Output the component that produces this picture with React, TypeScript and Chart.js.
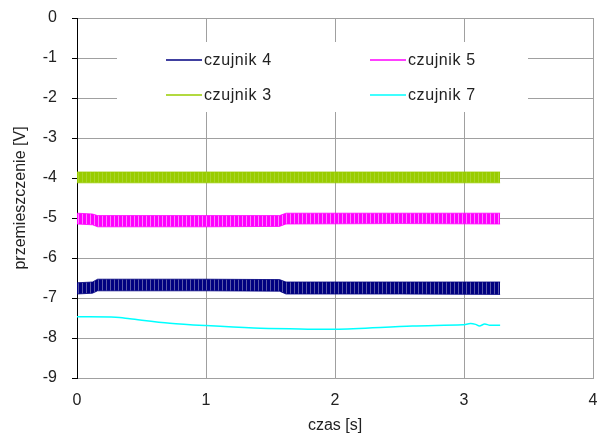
import React, { useEffect, useRef } from 'react';
import { Chart, registerables } from 'chart.js';

Chart.register(...registerables);

const FONT = '"Liberation Sans", Arial, sans-serif';
const TEXT = '#222222';
const GRID = '#a0a0a0';

// Time points (s) at which the noisy bands' envelopes were read
const bandTime = [0, 0.12, 0.16, 1.0, 1.57, 1.62, 2.5, 3.28];

// czujnik 3 (green) band envelope
const c3Upper = [-3.85, -3.85, -3.85, -3.85, -3.85, -3.85, -3.85, -3.85];
const c3Lower = [-4.12, -4.12, -4.12, -4.12, -4.12, -4.12, -4.12, -4.12];

// czujnik 5 (magenta) band envelope
const c5Upper = [-4.88, -4.9, -4.94, -4.94, -4.94, -4.88, -4.88, -4.88];
const c5Lower = [-5.15, -5.17, -5.22, -5.22, -5.21, -5.15, -5.14, -5.15];

// czujnik 4 (navy) band envelope
const c4Upper = [-6.62, -6.6, -6.53, -6.53, -6.54, -6.6, -6.6, -6.6];
const c4Lower = [-6.9, -6.88, -6.82, -6.82, -6.83, -6.9, -6.9, -6.91];

// czujnik 7 (cyan) line
const c7Time = [0, 0.3, 0.41, 0.72, 1.0, 1.37, 1.65, 2.0, 2.6, 2.99, 3.05, 3.09, 3.12, 3.16, 3.2, 3.28];
const c7Values = [-7.47, -7.48, -7.52, -7.63, -7.69, -7.75, -7.77, -7.78, -7.7, -7.67, -7.64, -7.66, -7.7, -7.65, -7.68, -7.68];

const legendLabels = ['czujnik 4', 'czujnik 5', 'czujnik 3', 'czujnik 7'];
const legendColors = ['#000080', '#ff00ff', '#99cc00', '#00ffff'];
const stripeColors = ['#5a5aa8', '#ff80ff', '#a8d42a', '#00ffff'];

const xTicks = [0, 1, 2, 3, 4];
const yTicks = [0, -1, -2, -3, -4, -5, -6, -7, -8, -9];

const pts = (xs: number[], ys: number[]) => xs.map((x, i) => ({ x, y: ys[i] }));

const stripes = (main: string, light: string) => {
  const c = document.createElement('canvas');
  c.width = 4;
  c.height = 4;
  const g = c.getContext('2d')!;
  g.fillStyle = main;
  g.fillRect(0, 0, 4, 4);
  g.fillStyle = light;
  g.fillRect(2, 0, 1, 4);
  const p = g.createPattern(c, 'repeat');
  return p || main;
};

const band = (label: string, color: string, fillStyle: any, upper: number[], lower: number[]) => [
  {
    label,
    data: pts(bandTime, upper),
    borderColor: color,
    backgroundColor: fillStyle,
    borderWidth: 0.8,
    pointRadius: 0,
    fill: false,
  },
  {
    label: label + ' (dół)',
    data: pts(bandTime, lower),
    borderColor: color,
    backgroundColor: fillStyle,
    borderWidth: 0.8,
    pointRadius: 0,
    fill: '-1',
  },
];

const legendPlugin = {
  id: 'boxLegend',
  beforeDatasetsDraw(chart: any) {
    const { ctx, chartArea } = chart;
    const left = chartArea.left + 40;
    const top = chartArea.top + 24;
    ctx.save();
    ctx.fillStyle = '#ffffff';
    ctx.fillRect(left, top, 411, 70);
    ctx.font = `16px ${FONT}`;
    ctx.textBaseline = 'middle';
    ctx.textAlign = 'left';
    try {
      (ctx as any).letterSpacing = '0.6px';
    } catch (e) {}
    legendLabels.forEach((lab, i) => {
      const col = i % 2;
      const row = Math.floor(i / 2);
      const sx = left + 49 + col * 204;
      const sy = top + 18 + row * 35;
      ctx.strokeStyle = legendColors[i];
      ctx.lineWidth = 1.5;
      ctx.beginPath();
      ctx.moveTo(sx, sy);
      ctx.lineTo(sx + 36, sy);
      ctx.stroke();
      ctx.fillStyle = TEXT;
      ctx.fillText(lab, sx + 38, sy + 1);
    });
    ctx.restore();
  },
};

export default function App() {
  const ref = useRef<HTMLCanvasElement>(null);
  useEffect(() => {
    if (!ref.current) return;
    const chart = new Chart(ref.current, {
      type: 'line',
      data: {
        datasets: [
          ...band(legendLabels[2], legendColors[2], stripes(legendColors[2], stripeColors[2]), c3Upper, c3Lower),
          ...band(legendLabels[1], legendColors[1], stripes(legendColors[1], stripeColors[1]), c5Upper, c5Lower),
          ...band(legendLabels[0], legendColors[0], stripes(legendColors[0], stripeColors[0]), c4Upper, c4Lower),
          {
            label: legendLabels[3],
            data: pts(c7Time, c7Values),
            borderColor: legendColors[3],
            backgroundColor: legendColors[3],
            borderWidth: 1.5,
            pointRadius: 0,
            fill: false,
            tension: 0.3,
          },
        ] as any,
      },
      options: {
        animation: false,
        responsive: false,
        devicePixelRatio: 1,
        layout: { padding: { left: 0, right: 4, top: 18, bottom: 0 } },
        plugins: {
          legend: { display: false },
          tooltip: { enabled: false },
        },
        scales: {
          x: {
            type: 'linear',
            min: 0,
            max: 4,
            afterBuildTicks: (s: any) => {
              s.ticks = xTicks.map((v) => ({ value: v }));
            },
            afterFit: (s: any) => {
              s.height = 59;
              s.paddingLeft = 0;
              s.paddingRight = 0;
            },
            ticks: {
              color: TEXT,
              font: { family: FONT, size: 16 },
              padding: 13,
              maxRotation: 0,
            },
            grid: { color: GRID, drawTicks: false, lineWidth: 1 },
            border: { color: GRID, width: 1 },
            title: {
              display: true,
              text: 'czas [s]',
              color: TEXT,
              font: { family: FONT, size: 16 },
              padding: { top: 0, bottom: 2 },
            },
          },
          y: {
            type: 'linear',
            min: -9,
            max: 0,
            afterBuildTicks: (s: any) => {
              s.ticks = yTicks.map((v) => ({ value: v }));
            },
            afterFit: (s: any) => {
              s.width = 77;
              s.paddingTop = 0;
              s.paddingBottom = 0;
            },
            ticks: {
              color: TEXT,
              font: { family: FONT, size: 16 },
              padding: 15,
            },
            grid: { color: GRID, tickColor: '#000000', tickLength: 5, lineWidth: 1 },
            border: { color: '#000000', width: 1 },
            title: {
              display: true,
              text: 'przemieszczenie [V]',
              color: TEXT,
              font: { family: FONT, size: 16 },
              padding: { top: 11, bottom: 0 },
            },
          },
        },
      } as any,
      plugins: [legendPlugin],
    });
    return () => chart.destroy();
  }, []);
  return (
    <div style={{ position: 'fixed', left: 0, top: 0, width: 597, height: 437, background: '#ffffff' }}>
      <canvas ref={ref} width={597} height={437} style={{ display: 'block' }} />
    </div>
  );
}
